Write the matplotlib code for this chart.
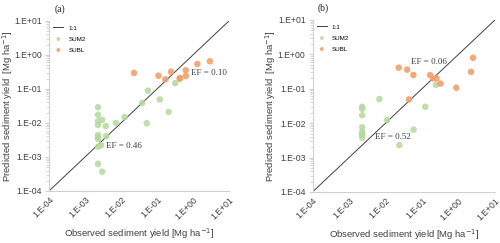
import numpy as np
import matplotlib.pyplot as plt
from matplotlib.ticker import LogLocator, FixedLocator

plt.rcParams['font.family'] = ['Liberation Sans', 'DejaVu Sans']

# 数据 - 面板 (a)
a_sum2_obs = [0.0023, 0.0023, 0.0023, 0.0030, 0.0023, 0.0038, 0.0023, 0.0039, 0.0023, 0.0023,
              0.0028, 0.0023, 0.0023, 0.0030, 0.0072, 0.0126, 0.039, 0.056, 0.052, 0.12, 0.21, 0.32]
a_sum2_pre = [0.029, 0.0174, 0.0112, 0.0123, 0.0087, 0.0081, 0.0044, 0.0041, 0.0037, 0.0034,
              0.0022, 0.0020, 0.00063, 0.00037, 0.0100, 0.0148, 0.039, 0.089, 0.0098, 0.049, 0.021, 0.148]
a_subl_obs = [0.023, 0.11, 0.17, 0.245, 0.43, 0.43, 0.63, 0.63, 1.32, 2.95]
a_subl_pre = [0.295, 0.245, 0.19, 0.32, 0.20, 0.21, 0.355, 0.24, 0.54, 0.65]

# 数据 - 面板 (b)
b_sum2_obs = [0.0023, 0.0023, 0.0023, 0.0023, 0.0023, 0.0023, 0.0023, 0.0023, 0.0068, 0.011,
              0.024, 0.059, 0.123, 0.24]
b_sum2_pre = [0.030, 0.026, 0.017, 0.0076, 0.0056, 0.0049, 0.0045, 0.0038, 0.050, 0.0123,
              0.0023, 0.0065, 0.030, 0.129]
b_subl_obs = [0.023, 0.039, 0.058, 0.044, 0.166, 0.20, 0.25, 0.32, 0.87, 2.2, 2.5]
b_subl_pre = [0.41, 0.36, 0.25, 0.049, 0.25, 0.20, 0.20, 0.141, 0.107, 0.31, 0.79]

ef_text = ['EF = 0.46', 'EF = 0.10', 'EF = 0.06', 'EF = 0.52']
tick_vals = [1e-4, 1e-3, 1e-2, 1e-1, 1e0, 1e1]
tick_labels = ['1.E-04', '1.E-03', '1.E-02', '1.E-01', '1.E+00', '1.E+01']

green = '#b4d99c'
orange = '#f2a06a'
grey = '#d0d0d0'

fig = plt.figure(figsize=(5, 2.43), dpi=100)
ax_a = fig.add_axes([0.098, 0.214, 0.360, 0.700])
ax_b = fig.add_axes([0.625, 0.210, 0.365, 0.708])

panels = [
    (ax_a, a_sum2_obs, a_sum2_pre, a_subl_obs, a_subl_pre, '(a)',
     [(0.0039, 0.0021, ef_text[0]), (0.86, 0.30, ef_text[1])]),
    (ax_b, b_sum2_obs, b_sum2_pre, b_subl_obs, b_subl_pre, '(b)',
     [(0.0052, 0.0040, ef_text[3]), (0.050, 0.58, ef_text[2])]),
]

for ax, so, sp, bo, bp, tag, efs in panels:
    ax.set_xscale('log')
    ax.set_yscale('log')
    ax.set_xlim(1e-4, 1e1)
    ax.set_ylim(1e-4, 1e1)
    ax.plot([1e-4, 1e1], [1e-4, 1e1], color='#404040', lw=0.7, label='1:1', zorder=2)
    ax.scatter(so, sp, s=22, color=green, alpha=0.85, edgecolors='none', label='SUM2', zorder=3)
    ax.scatter(bo, bp, s=22, color=orange, alpha=0.9, edgecolors='none', label='SUBL', zorder=3)

    ax.xaxis.set_major_locator(FixedLocator(tick_vals))
    ax.set_xticklabels(tick_labels, rotation=45, ha='right', rotation_mode='anchor', fontsize=6.2, color='#404040')
    ax.yaxis.set_major_locator(FixedLocator(tick_vals))
    ax.set_yticklabels(tick_labels, fontsize=6.2, color='#404040')
    ax.xaxis.set_minor_locator(plt.NullLocator())
    ax.yaxis.set_minor_locator(LogLocator(base=10, subs=np.arange(2, 10)))
    ax.tick_params(axis='x', length=0, pad=3)
    ax.tick_params(axis='y', which='major', length=3, color=grey, pad=2)
    ax.tick_params(axis='y', which='minor', length=2, color=grey)

    for s in ['top', 'right']:
        ax.spines[s].set_visible(False)
    ax.spines['left'].set_color(grey)
    ax.spines['bottom'].set_color(grey)
    ax.spines['left'].set_linewidth(0.8)
    ax.spines['bottom'].set_linewidth(0.8)

    ax.set_xlabel('Observed sediment yield [Mg ha$^{-1}$]', fontsize=6.8, color='#404040', labelpad=4)
    ax.set_ylabel('Predicted sediment yield  [Mg ha$^{-1}$]', fontsize=6.8, color='#404040')
    ax.yaxis.set_label_coords(-0.19, 0.5)

    for x, y, t in efs:
        ax.text(x, y, t, fontsize=6.5, family='Liberation Serif', color='#404040', va='center')

    ax.text(0.03, 1.04, tag, transform=ax.transAxes, fontsize=7, family='Liberation Serif',
            va='bottom', ha='left', color='#202020')

    ax.legend(loc='upper left', fontsize=4.5, frameon=False, handlelength=1.6,
              borderaxespad=0.3, labelspacing=0.9, markerscale=0.6)

fig.savefig('out.png', dpi=100)
